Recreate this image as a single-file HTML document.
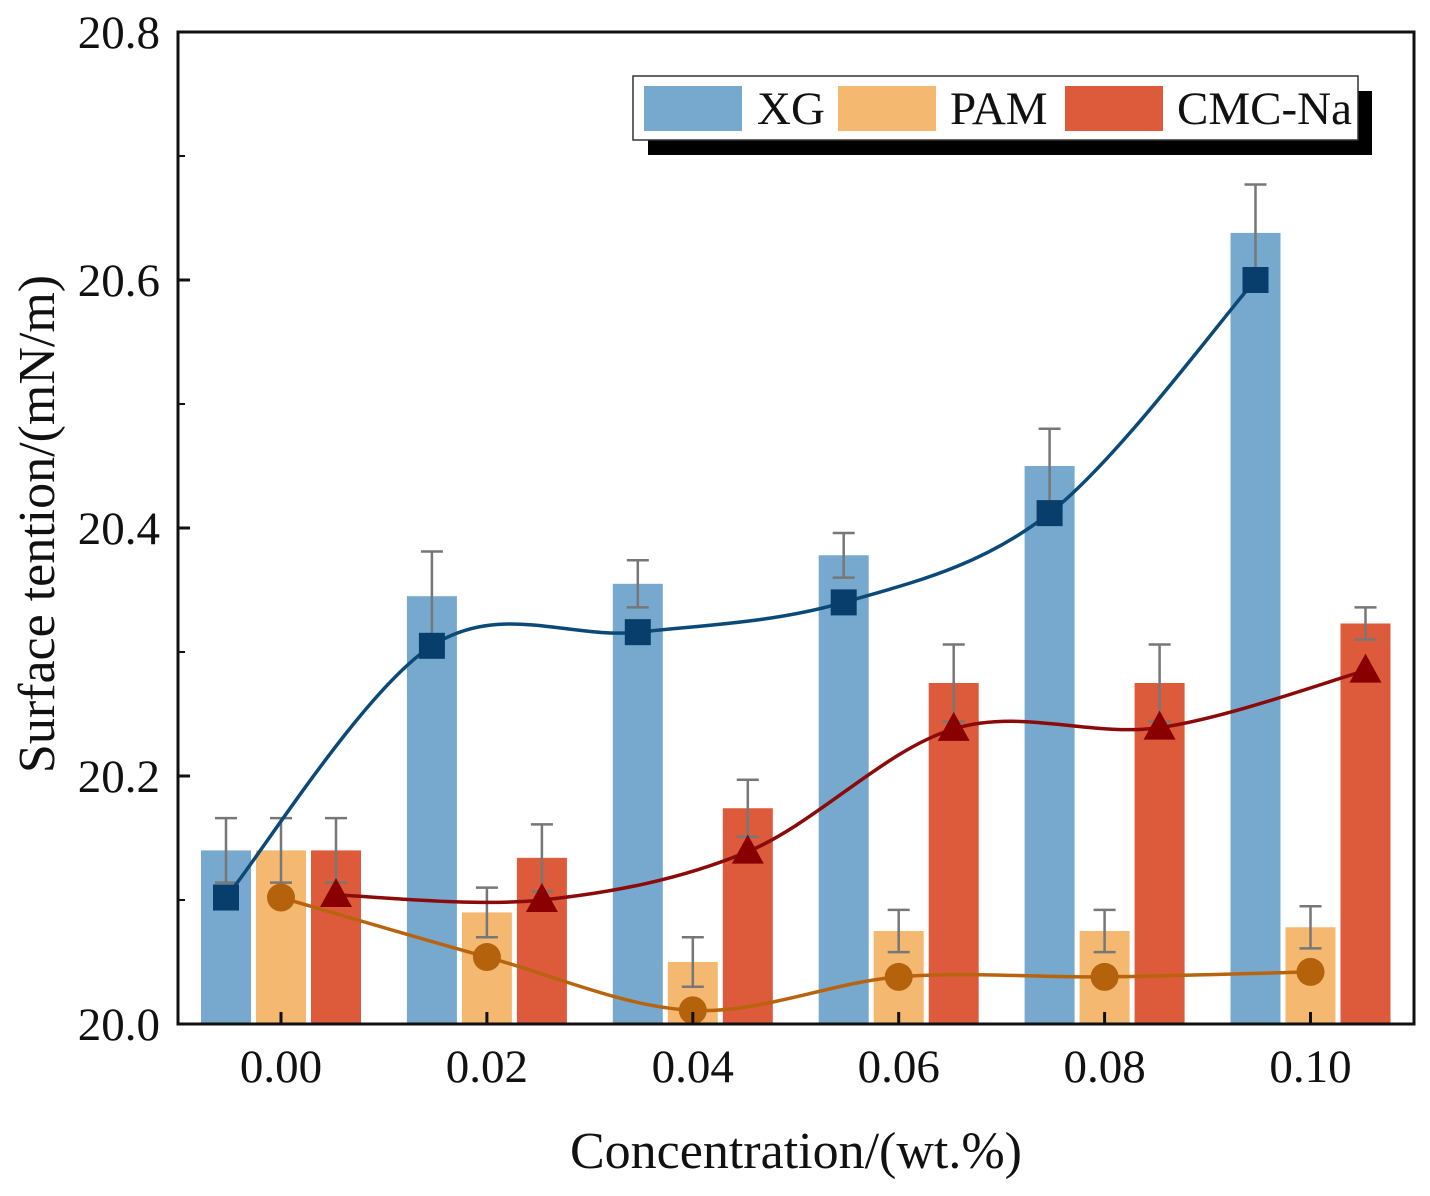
<!DOCTYPE html>
<html><head><meta charset="utf-8"><style>
body{margin:0;background:#fff;}
svg text{font-family:"Liberation Serif",serif;fill:#111;}
</style></head><body>
<svg id="chart" width="1430" height="1191" xmlns="http://www.w3.org/2000/svg">
<g id="bars"></g>
<g id="lines"></g>
<g id="axes"></g>
<text x="0" y="0" transform="translate(54,524) rotate(-90)" text-anchor="middle" font-size="52">Surface tention/(mN/m)</text>
<text x="796" y="1168" text-anchor="middle" font-size="52">Concentration/(wt.%)</text>
<g>
<rect x="648" y="91" width="724" height="64" fill="#000"/>
<rect x="633" y="76" width="725" height="64" fill="#fff" stroke="#333" stroke-width="1.5"/>
<rect x="644" y="86" width="98" height="45" fill="#77a8cd"/>
<text x="757" y="124" font-size="47">XG</text>
<rect x="838" y="86" width="98" height="45" fill="#f4b870"/>
<text x="950" y="124" font-size="47">PAM</text>
<rect x="1065" y="86" width="98" height="45" fill="#dd5a3a"/>
<text x="1177" y="124" font-size="47">CMC-Na</text>
</g>
</svg>
<script>
const categories=["0.00","0.02","0.04","0.06","0.08","0.10"];
const yTicks=[20.0,20.2,20.4,20.6,20.8];
const xgBars=[20.14,20.345,20.355,20.378,20.45,20.638];
const xgErr=[0.026,0.036,0.019,0.018,0.03,0.039];
const pamBars=[20.14,20.09,20.05,20.075,20.075,20.078];
const pamErr=[0.026,0.02,0.02,0.017,0.017,0.017];
const cmcBars=[20.14,20.134,20.174,20.275,20.275,20.323];
const cmcErr=[0.026,0.027,0.023,0.031,0.031,0.013];
const xgPts=[20.102,20.305,20.316,20.34,20.412,20.6];
const pamPts=[20.102,20.054,20.011,20.038,20.038,20.042];
const cmcPts=[20.104,20.1,20.139,20.238,20.239,20.285];

const NS="http://www.w3.org/2000/svg";
const L=178,R=1414,T=32,B=1024,yMin=20.0,yMax=20.8;
const y=v=>B-(v-yMin)/(yMax-yMin)*(B-T);
const x=i=>281+i*205.9;
function el(tag,attrs,parent){const e=document.createElementNS(NS,tag);for(const k in attrs)e.setAttribute(k,attrs[k]);parent.appendChild(e);return e;}
const gb=document.getElementById('bars'),gl=document.getElementById('lines'),ga=document.getElementById('axes');
const series=[
 {name:'xg',bars:xgBars,err:xgErr,pts:xgPts,off:-55,fill:'#77a8cd',line:'#0b4a78',mark:'#073e6b',shape:'square'},
 {name:'pam',bars:pamBars,err:pamErr,pts:pamPts,off:0,fill:'#f4b870',line:'#b8640f',mark:'#b5620c',shape:'circle'},
 {name:'cmc',bars:cmcBars,err:cmcErr,pts:cmcPts,off:55,fill:'#dd5a3a',line:'#8b0a0a',mark:'#8a0000',shape:'tri'}];
const W=50;
series.forEach(s=>{
 s.bars.forEach((v,i)=>{
  const cx=x(i)+s.off;
  const r=el('rect',{x:cx-W/2,y:y(v),width:W,height:B-y(v),fill:s.fill},gb);
  
  
  const top=y(v+s.err[i]),bot=y(v-s.err[i]);
  const eb=el('path',{d:`M${cx} ${top}V${bot}M${cx-11} ${top}H${cx+11}M${cx-11} ${bot}H${cx+11}`,stroke:'#777','stroke-width':2.5,fill:'none'},gb);
  
  
 });
});
series.forEach(s=>{
 const P=s.pts.map((v,i)=>[x(i)+s.off,y(v)]);
 let d=`M${P[0][0]} ${P[0][1]}`;
 for(let i=0;i<P.length-1;i++){
  const p0=P[Math.max(0,i-1)],p1=P[i],p2=P[i+1],p3=P[Math.min(P.length-1,i+2)];
  d+=` C${p1[0]+(p2[0]-p0[0])/6} ${p1[1]+(p2[1]-p0[1])/6} ${p2[0]-(p3[0]-p1[0])/6} ${p2[1]-(p3[1]-p1[1])/6} ${p2[0]} ${p2[1]}`;
 }
 const ln=el('path',{d:d,stroke:s.line,'stroke-width':3.5,fill:'none'},gl);
 
 
 P.forEach((p,i)=>{
  let m;
  if(s.shape==='square')m=el('rect',{x:p[0]-13,y:p[1]-13,width:26,height:26,fill:s.mark},gl);
  else if(s.shape==='circle')m=el('circle',{cx:p[0],cy:p[1],r:14,fill:s.mark},gl);
  else m=el('path',{d:`M${p[0]} ${p[1]-17}L${p[0]+16} ${p[1]+12}L${p[0]-16} ${p[1]+12}Z`,fill:s.mark},gl);
  
  
 });
});
const fr=el('rect',{x:L,y:T,width:R-L,height:B-T,fill:'none',stroke:'#111','stroke-width':3},ga);


yTicks.forEach(v=>{
 const t=el('line',{x1:L,x2:L+12,y1:y(v),y2:y(v),stroke:'#111','stroke-width':3},ga);
 
 
 const tx=el('text',{x:L-18,y:y(v)+16,'text-anchor':'end','font-size':47},ga);
 tx.textContent=v.toFixed(1);
 
 
});
[0.1,0.3,0.5,0.7].forEach(v=>{
 const t=el('line',{x1:L,x2:L+7,y1:y(20+v),y2:y(20+v),stroke:'#111','stroke-width':2},ga);
 
 
});
categories.forEach((c,i)=>{
 const t=el('line',{x1:x(i),x2:x(i),y1:B,y2:B-12,stroke:'#111','stroke-width':3},ga);
 
 
 const tx=el('text',{x:x(i),y:B+58,'text-anchor':'middle','font-size':47},ga);
 tx.textContent=c;
 
 
});
</script>
</body></html>
